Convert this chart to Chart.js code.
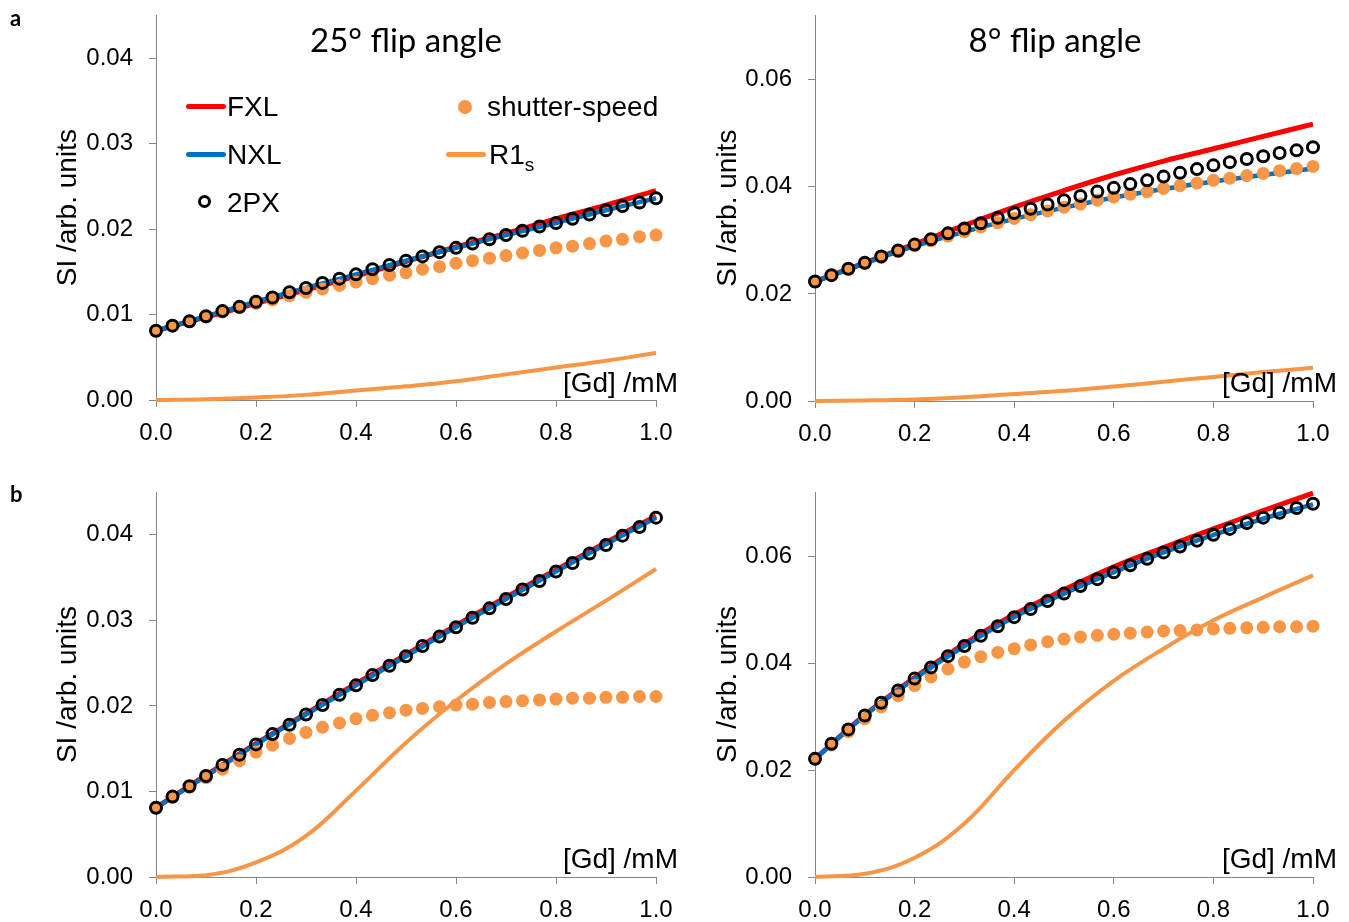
<!DOCTYPE html>
<html>
<head>
<meta charset="utf-8">
<title>SI vs [Gd]</title>
<script src="https://cdn.jsdelivr.net/npm/chart.js@4.4.1/dist/chart.umd.min.js"></script>
<style>
  body { margin: 0; background: #fff; }
  #fig { position: relative; width: 1349px; height: 922px; font-family: 'Liberation Sans', Arial, sans-serif; color: #000; overflow: hidden; }
  #fig canvas { position: absolute; }
  .tag { position: absolute; font: bold 22px Lato, sans-serif; line-height: 1; }
  .flip { position: absolute; font: 33px Lato, sans-serif; line-height: 1; white-space: nowrap; transform: translateX(-50%); }
  .gd { position: absolute; font-size: 28px; line-height: 1; white-space: nowrap; transform: translateX(-100%); }
  .leg { position: absolute; font-size: 28px; line-height: 1; white-space: nowrap; }
  .leg sub { font-size: 19px; vertical-align: -7px; line-height: 0; }
  .sw-line { position: absolute; width: 40px; height: 5px; border-radius: 3px; }
  .sw-ring { position: absolute; width: 7px; height: 7px; border: 3px solid #000; border-radius: 50%; }
  .sw-dot { position: absolute; width: 14px; height: 14px; border-radius: 50%; background: #F79646; }
</style>
</head>
<body>
<div id="fig">
  <canvas id="c-a25" width="685" height="475" style="left:0;top:-15px"></canvas>
  <canvas id="c-a8" width="669" height="475" style="left:680px;top:-15px"></canvas>
  <canvas id="c-b25" width="685" height="462" style="left:0;top:460px"></canvas>
  <canvas id="c-b8" width="669" height="462" style="left:680px;top:460px"></canvas>

  <div class="tag" style="left:10px;top:7px">a</div>
  <div class="tag" style="left:10px;top:483px">b</div>

  <div class="flip" style="left:406px;top:23px">25° flip angle</div>
  <div class="flip" style="left:1055px;top:23px">8° flip angle</div>

  <div class="gd" style="left:678px;top:369px">[Gd] /mM</div>
  <div class="gd" style="left:1337px;top:369px">[Gd] /mM</div>
  <div class="gd" style="left:678px;top:845px">[Gd] /mM</div>
  <div class="gd" style="left:1337px;top:845px">[Gd] /mM</div>

  <div class="sw-line" style="left:186px;top:104px;background:#FF0000"></div>
  <div class="leg" style="left:227px;top:93px">FXL</div>
  <div class="sw-line" style="left:186px;top:152px;background:#0070C0"></div>
  <div class="leg" style="left:227px;top:141px">NXL</div>
  <div class="sw-ring" style="left:198px;top:195px"></div>
  <div class="leg" style="left:227px;top:189px">2PX</div>
  <div class="sw-dot" style="left:458px;top:100px"></div>
  <div class="leg" style="left:487px;top:93px">shutter-speed</div>
  <div class="sw-line" style="left:446px;top:152px;background:#F79646"></div>
  <div class="leg" style="left:489px;top:141px">R1<sub>s</sub></div>
</div>

<script>
// [Gd] in mM: 31 sample points for the markers, 11 for the smooth curves
const gd = [0, 0.033, 0.067, 0.1, 0.133, 0.167, 0.2, 0.233, 0.267, 0.3, 0.333, 0.367, 0.4, 0.433, 0.467,
  0.5, 0.533, 0.567, 0.6, 0.633, 0.667, 0.7, 0.733, 0.767, 0.8, 0.833, 0.867, 0.9, 0.933, 0.967, 1.0];
const gdLine = [0, 0.1, 0.2, 0.3, 0.4, 0.5, 0.6, 0.7, 0.8, 0.9, 1.0];
const xTicks = [0, 0.2, 0.4, 0.6, 0.8, 1.0];

// a, 25 deg
const a25Fxl = [0.0081, 0.0097, 0.0113, 0.0129, 0.0145, 0.0162, 0.0179, 0.0195, 0.0212, 0.0228, 0.0245];
const a25Nxl = [0.0081, 0.0098, 0.0115, 0.0131, 0.0147, 0.0163, 0.0178, 0.0193, 0.0207, 0.0222, 0.0236];
const a25R1s = [0, 0.0001, 0.0003, 0.0006, 0.0011, 0.0016, 0.0022, 0.0030, 0.0038, 0.0046, 0.0055];
const a25TwoPx = [0.0081, 0.0087, 0.0092, 0.0098, 0.0104, 0.0109, 0.0115, 0.0120, 0.0126, 0.0131, 0.0137,
  0.0142, 0.0147, 0.0153, 0.0158, 0.0163, 0.0168, 0.0173, 0.0178, 0.0183, 0.0188,
  0.0193, 0.0198, 0.0203, 0.0207, 0.0212, 0.0217, 0.0222, 0.0227, 0.0231, 0.0236];
const a25Shutter = [0.0081, 0.0087, 0.0092, 0.0097, 0.0103, 0.0108, 0.0113, 0.0117, 0.0122, 0.0126, 0.0130,
  0.0134, 0.0138, 0.0142, 0.0146, 0.0149, 0.0153, 0.0156, 0.0160, 0.0163, 0.0166,
  0.0169, 0.0172, 0.0175, 0.0178, 0.0180, 0.0183, 0.0186, 0.0188, 0.0191, 0.0193];

// a, 8 deg
const a8Fxl = [0.0223, 0.0258, 0.0293, 0.0328, 0.0362, 0.0393, 0.0422, 0.0448, 0.0471, 0.0494, 0.0517];
const a8Nxl = [0.0223, 0.0257, 0.0289, 0.0316, 0.0340, 0.0361, 0.0380, 0.0396, 0.0410, 0.0422, 0.0434];
const a8R1s = [0, 0.0001, 0.0003, 0.0007, 0.0013, 0.0019, 0.0027, 0.0036, 0.0045, 0.0054, 0.0062];
const a8TwoPx = [0.0223, 0.0235, 0.0247, 0.0258, 0.0270, 0.0281, 0.0292, 0.0302, 0.0313, 0.0322, 0.0332,
  0.0342, 0.0351, 0.0359, 0.0367, 0.0375, 0.0383, 0.0391, 0.0398, 0.0405, 0.0412,
  0.0419, 0.0426, 0.0433, 0.0440, 0.0446, 0.0452, 0.0457, 0.0463, 0.0468, 0.0474];
const a8Shutter = [0.0223, 0.0235, 0.0246, 0.0257, 0.0268, 0.0279, 0.0290, 0.0299, 0.0308, 0.0316, 0.0325,
  0.0333, 0.0341, 0.0348, 0.0355, 0.0362, 0.0368, 0.0375, 0.0381, 0.0386, 0.0391,
  0.0397, 0.0402, 0.0407, 0.0412, 0.0416, 0.0421, 0.0425, 0.0430, 0.0434, 0.0438];

// b, 25 deg
const b25Fxl = [0.0081, 0.0119, 0.0156, 0.0191, 0.0226, 0.0260, 0.0294, 0.0327, 0.0359, 0.0391, 0.0422];
const b25Nxl = [0.0081, 0.0118, 0.0155, 0.0190, 0.0224, 0.0258, 0.0292, 0.0325, 0.0357, 0.0389, 0.0420];
const b25R1s = [0, 0.0002, 0.0017, 0.0048, 0.0101, 0.0157, 0.0206, 0.0249, 0.0287, 0.0323, 0.0360];
const b25TwoPx = [0.0081, 0.0094, 0.0106, 0.0118, 0.0131, 0.0143, 0.0155, 0.0167, 0.0178, 0.0190, 0.0201,
  0.0213, 0.0224, 0.0236, 0.0247, 0.0258, 0.0270, 0.0281, 0.0292, 0.0303, 0.0314,
  0.0325, 0.0336, 0.0346, 0.0357, 0.0367, 0.0378, 0.0388, 0.0399, 0.0409, 0.0420];
const b25Shutter = [0.0081, 0.0093, 0.0105, 0.0116, 0.0126, 0.0136, 0.0146, 0.0154, 0.0162, 0.0169, 0.0175,
  0.0180, 0.0185, 0.0189, 0.0192, 0.0195, 0.0197, 0.0199, 0.0201, 0.0202, 0.0204,
  0.0205, 0.0206, 0.0207, 0.0208, 0.0209, 0.0209, 0.0210, 0.0210, 0.0211, 0.0211];

// b, 8 deg
const b8Fxl = [0.0221, 0.0303, 0.0373, 0.0436, 0.0491, 0.0537, 0.0580, 0.0616, 0.0651, 0.0685, 0.0718];
const b8Nxl = [0.0221, 0.0302, 0.0371, 0.0432, 0.0486, 0.0530, 0.0570, 0.0607, 0.0640, 0.0670, 0.0697];
const b8R1s = [0, 0.0006, 0.0036, 0.0100, 0.0200, 0.0292, 0.0367, 0.0427, 0.0480, 0.0523, 0.0564];
const b8TwoPx = [0.0221, 0.0249, 0.0276, 0.0302, 0.0326, 0.0349, 0.0371, 0.0392, 0.0413, 0.0432, 0.0451,
  0.0469, 0.0486, 0.0501, 0.0516, 0.0530, 0.0544, 0.0557, 0.0570, 0.0583, 0.0595,
  0.0607, 0.0618, 0.0629, 0.0640, 0.0651, 0.0662, 0.0672, 0.0681, 0.0690, 0.0698];
const b8Shutter = [0.0221, 0.0247, 0.0272, 0.0296, 0.0318, 0.0339, 0.0358, 0.0374, 0.0389, 0.0402, 0.0412,
  0.0420, 0.0427, 0.0434, 0.0440, 0.0445, 0.0449, 0.0452, 0.0454, 0.0456, 0.0458,
  0.0460, 0.0461, 0.0462, 0.0464, 0.0465, 0.0466, 0.0467, 0.0468, 0.0468, 0.0469];

const RED = '#FF0000', BLUE = '#0070C0', ORANGE = '#F79646', AXIS = '#868686';

Chart.defaults.font.family = "'Liberation Sans', Arial, sans-serif";
Chart.defaults.color = '#000';

const pts = (xs, ys) => xs.map((x, i) => ({ x, y: ys[i] }));

function makePanel(id, s, yMax, yStep, box) {
  const curve = (label, ys, color, width) => ({
    label, data: pts(gdLine, ys), showLine: true, borderColor: color, borderWidth: width,
    pointRadius: 0, tension: 0.4, clip: false
  });

  new Chart(document.getElementById(id), {
    type: 'scatter',
    data: {
      datasets: [
        { label: '2PX', data: pts(gd, s.twoPx), pointRadius: 5.5, pointBorderWidth: 3,
          pointBorderColor: '#000', pointBackgroundColor: 'rgba(0,0,0,0)', clip: false },
        { label: 'shutter-speed', data: pts(gd, s.shutter), pointRadius: 6.5, pointBorderWidth: 0,
          pointBackgroundColor: ORANGE, clip: false },
        curve('R1s', s.r1s, ORANGE, 4),
        curve('NXL', s.nxl, BLUE, 4.5),
        curve('FXL', s.fxl, RED, 5),
      ]
    },
    options: {
      responsive: false, animation: false, events: [], devicePixelRatio: 1,
      layout: { padding: { top: box.padTop, right: box.padRight, left: 0, bottom: 0 } },
      plugins: { legend: { display: false }, tooltip: { enabled: false } },
      scales: {
        x: {
          type: 'linear', min: 0, max: 1,
          afterBuildTicks: sc => { sc.ticks = xTicks.map(v => ({ value: v })); },
          afterFit: sc => { sc.height = box.xH; },
          ticks: { font: { size: 24 }, padding: 12, maxRotation: 0, callback: v => v.toFixed(1) },
          grid: { drawOnChartArea: false, tickLength: 7, color: AXIS },
          border: { color: AXIS, width: 1 }
        },
        y: {
          type: 'linear', min: 0, max: yMax,
          afterBuildTicks: sc => {
            const out = [];
            for (let v = 0; v <= yMax + 1e-9; v += yStep) out.push({ value: +v.toFixed(4) });
            sc.ticks = out;
          },
          afterFit: sc => { sc.width = box.yW; },
          ticks: { font: { size: 24 }, padding: 16, callback: v => v.toFixed(2) },
          grid: { drawOnChartArea: false, tickLength: 7, color: AXIS },
          border: { color: AXIS, width: 1 },
          title: { display: true, text: 'SI /arb. units', font: { size: 28 }, padding: { top: box.titlePad, bottom: 0 } }
        }
      }
    }
  });
}

// top canvases start 15px above the page so their plot area can reach y = 15
makePanel('c-a25', { fxl: a25Fxl, nxl: a25Nxl, r1s: a25R1s, twoPx: a25TwoPx, shutter: a25Shutter },
  0.045, 0.01, { padTop: 30, padRight: 29, xH: 60, yW: 156, titlePad: 51 });
makePanel('c-a8', { fxl: a8Fxl, nxl: a8Nxl, r1s: a8R1s, twoPx: a8TwoPx, shutter: a8Shutter },
  0.072, 0.02, { padTop: 30, padRight: 36, xH: 59, yW: 135, titlePad: 31 });
makePanel('c-b25', { fxl: b25Fxl, nxl: b25Nxl, r1s: b25R1s, twoPx: b25TwoPx, shutter: b25Shutter },
  0.045, 0.01, { padTop: 32, padRight: 29, xH: 45, yW: 156, titlePad: 51 });
makePanel('c-b8', { fxl: b8Fxl, nxl: b8Nxl, r1s: b8R1s, twoPx: b8TwoPx, shutter: b8Shutter },
  0.072, 0.02, { padTop: 32, padRight: 36, xH: 45, yW: 135, titlePad: 31 });
</script>
</body>
</html>
